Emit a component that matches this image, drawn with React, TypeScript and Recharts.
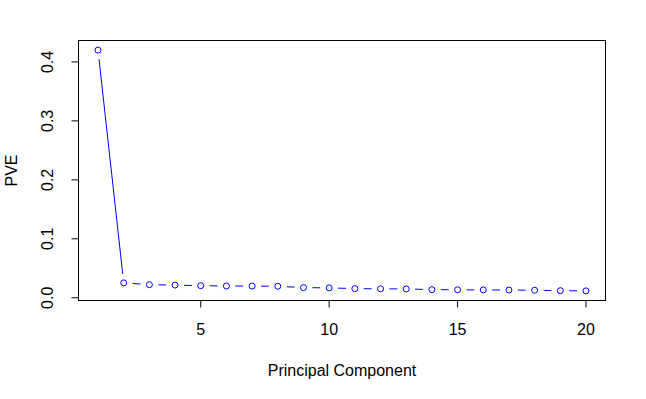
import { LineChart, Line, XAxis, YAxis } from 'recharts'

const components = [1, 2, 3, 4, 5, 6, 7, 8, 9, 10, 11, 12, 13, 14, 15, 16, 17, 18, 19, 20]
const pve = [
  0.42, 0.0253, 0.0222, 0.0215, 0.0205, 0.02, 0.0198, 0.0195, 0.0172, 0.0168,
  0.0155, 0.0152, 0.015, 0.0138, 0.0135, 0.0133, 0.0131, 0.0128, 0.012, 0.0117,
]
const xTicks = [5, 10, 15, 20]
const yTicks = [0, 0.1, 0.2, 0.3, 0.4]

const data = components.map((pc, i) => ({ pc, pve: pve[i] }))

// R pads the data range by 4% on each side
const pad = (lo: number, hi: number): [number, number] => {
  const d = (hi - lo) * 0.04
  return [lo - d, hi + d]
}
const xDomain = pad(Math.min(...components), Math.max(...components))
const yDomain = pad(Math.min(...pve), Math.max(...pve))

const FONT = 'Liberation Sans, Arial, sans-serif'
const FS = 16

// type="b": open circle with a gap in the line around it
const Dot = (props: any) => {
  const { cx, cy, index } = props
  return (
    <g key={`dot-${index}`}>
      <circle cx={cx} cy={cy} r={9} fill="#fff" stroke="none" />
      <circle cx={cx} cy={cy} r={3} fill="#fff" stroke="#0000ff" strokeWidth={1} />
    </g>
  )
}

const YTick = (props: any) => {
  const { x, y, payload } = props
  const tx = x - 16
  return (
    <text x={tx} y={y} transform={`rotate(-90, ${tx}, ${y})`} textAnchor="middle"
      fontFamily={FONT} fontSize={FS} fill="#000">
      {payload.value.toFixed(1)}
    </text>
  )
}

export default function App() {
  return (
    <div style={{ position: 'absolute', left: 0, top: 0, width: 646, height: 399, background: '#fff' }}>
      <LineChart width={646} height={399} data={data}
        margin={{ top: 40.5, right: 40.5, bottom: 38.5, left: 0 }}>
        <Line type="linear" dataKey="pve" stroke="#0000ff" strokeWidth={1}
          dot={Dot} activeDot={false} isAnimationActive={false} />
        <XAxis dataKey="pc" type="number" domain={xDomain} allowDataOverflow
          ticks={xTicks} height={60} tickSize={7} tickMargin={16}
          stroke="#000" tick={{ fill: '#000', fontFamily: FONT, fontSize: FS }}
          label={{
            content: (p: any) => (
              <text x={p.viewBox.x + p.viewBox.width / 2} y={p.viewBox.y + 75}
                textAnchor="middle" fontFamily={FONT} fontSize={FS} fill="#000">
                Principal Component
              </text>
            ),
          }} />
        <YAxis type="number" domain={yDomain} allowDataOverflow ticks={yTicks}
          width={78.5} tickSize={7} stroke="#000" tick={YTick}
          label={{
            content: (p: any) => (
              <text x={17} y={p.viewBox.y + p.viewBox.height / 2}
                transform={`rotate(-90, 17, ${p.viewBox.y + p.viewBox.height / 2})`}
                textAnchor="middle" fontFamily={FONT} fontSize={FS} fill="#000">
                PVE
              </text>
            ),
          }} />
      </LineChart>
      {/* plot box, as R's box() */}
      <div style={{
        position: 'absolute', left: 78, top: 40, width: 528, height: 261,
        boxSizing: 'border-box', border: '1px solid #000', pointerEvents: 'none',
      }} />
    </div>
  )
}
